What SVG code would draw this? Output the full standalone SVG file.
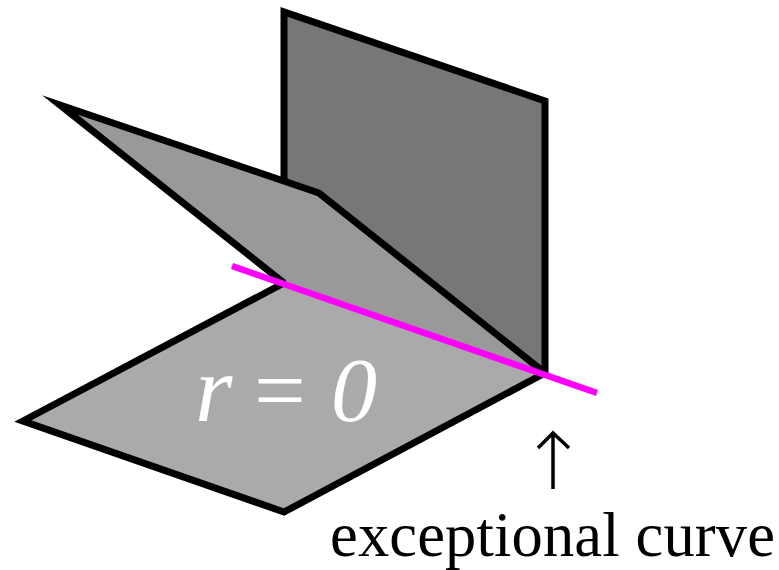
<svg xmlns="http://www.w3.org/2000/svg" width="779" height="570" viewBox="0 0 779 570">
<style>
.f{stroke:none}
.e{fill:none;stroke:#000;stroke-width:7;stroke-linejoin:miter;stroke-miterlimit:12}
.t{font-family:"Liberation Serif","Times New Roman",serif}
</style>
<rect width="779" height="570" fill="#fff"/>
<g id="back-plane"><polygon class="f" fill="#777" points="284,12 545,101 545,373 284,283"/><path class="e" d="M284 283V12L545 101V373"/></g>
<g id="bottom-plane"><polygon class="f" fill="#aaa" points="284,283 545,373 284,512 23,421"/><path class="e" d="M545 373L284 512L23 421L284 283"/>
<text class="t" x="195" y="421" font-size="96" font-style="italic" fill="#fff">r</text>
<text class="t" x="254" y="421" font-size="92" fill="#fff">=</text>
<text class="t" x="331" y="421" font-size="92" font-style="italic" fill="#fff">0</text></g>
<g id="fold-plane"><polygon class="f" fill="#999" points="60,105 319,193 545,373 284,283"/><path class="e" d="M284 283L60 105L319 193L545 373"/></g>
<g id="connectors">
<line x1="232" y1="266" x2="597" y2="393" stroke="#f0f" stroke-width="6.5"/>
<path d="M553 489V434M538 448L553 433L569 448" fill="none" stroke="#000" stroke-width="3.5"/>
</g>
<g id="label"><text class="t" x="330" y="556.4" font-size="62.5" textLength="445" fill="#000">exceptional curve</text></g>
</svg>
